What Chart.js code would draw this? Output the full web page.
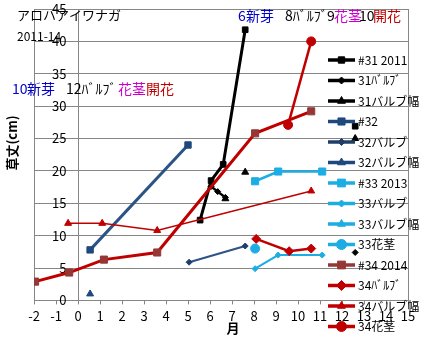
<!DOCTYPE html>
<html>
<head>
<meta charset="utf-8">
<script src="https://cdn.jsdelivr.net/npm/chart.js@4"></script>
<style>
  html, body { margin: 0; padding: 0; background: #fff; }
</style>
</head>
<body>
<canvas id="growthChart" width="425" height="342"></canvas>
<script>
// months (x) and heights in cm (y); null leaves a gap in the line
const m31 = [5.55, 6.05, 6.6, 7.6, 10, 12.6];
const h31 = [12.4, 18.5, 21.0, 41.8, null, 26.9];
const m31bulb = [6.05, 6.35, 6.7, 9, 12.6];
const h31bulb = [17.6, 16.8, 15.9, null, 7.4];
const m31width = [6.7, 7.2, 7.6, 9, 12.6];
const h31width = [15.7, null, 19.8, null, 25.0];

const m32 = [0.55, 5.0];
const h32 = [7.8, 24.0];
const m32bulb = [5.05, 7.6];
const h32bulb = [5.9, 8.4];
const m32width = [0.55];
const h32width = [1.0];

const m33 = [8.05, 9.1, 11.1];
const h33 = [18.4, 19.9, 19.9];
const m33bulb = [8.05, 9.1, 11.1];
const h33bulb = [4.9, 7.0, 7.0];
const m33width = [];
const h33width = [];
const m33stem = [8.05];
const h33stem = [8.0];

const m34 = [-1.95, -0.4, 1.18, 3.6, 8.05, 10.6];
const h34 = [2.9, 4.3, 6.3, 7.4, 25.8, 29.2];
const m34bulb = [8.1, 9.6, 10.6];
const h34bulb = [9.5, 7.6, 8.0];
const m34width = [-0.45, 1.1, 3.6, 10.6];
const h34width = [11.9, 11.9, 10.8, 16.9];
const m34stem = [9.55, 10.6];
const h34stem = [27.1, 40.0];

const JP = '"Noto Sans CJK JP", sans-serif';
const GRID = '#868686';

function pts(xs, ys) {
  return xs.map((x, i) => ({ x: x, y: ys[i] }));
}

function series(label, xs, ys, color, width, style, radius, markColor) {
  return {
    label: label,
    data: pts(xs, ys),
    showLine: true,
    borderColor: color,
    borderWidth: width,
    pointStyle: style,
    pointRadius: radius,
    pointBackgroundColor: markColor || color,
    pointBorderColor: markColor || color,
    pointBorderWidth: 1
  };
}

const datasets = [
  series('#31 2011', m31, h31, '#000000', 3, 'rect', 4),
  series('31ﾊﾞﾙﾌﾞ', m31bulb, h31bulb, '#000000', 2.5, 'rectRot', 3),
  series('31バルブ幅', m31width, h31width, '#000000', 2.5, 'triangle', 4),
  series('#32', m32, h32, '#2B5485', 3, 'rect', 4.5, '#1F497D'),
  series('32バルブ', m32bulb, h32bulb, '#2B5485', 2, 'rectRot', 3, '#1F3F6A'),
  series('32バルブ幅', m32width, h32width, '#2B5485', 2, 'triangle', 4, '#1F497D'),
  series('#33 2013', m33, h33, '#1CADE4', 2.5, 'rect', 5),
  series('33バルブ', m33bulb, h33bulb, '#1CADE4', 2, 'rectRot', 3),
  series('33バルブ幅', m33width, h33width, '#1CADE4', 2, 'triangle', 4),
  series('33花茎', m33stem, h33stem, '#1CADE4', 2.5, 'circle', 4.5),
  series('#34 2014', m34, h34, '#C00000', 3, 'rect', 5, '#953735'),
  series('34ﾊﾞﾙﾌﾞ', m34bulb, h34bulb, '#C00000', 2.5, 'rectRot', 4.5),
  series('34バルブ幅', m34width, h34width, '#C00000', 1.5, 'triangle', 4),
  series('34花茎', m34stem, h34stem, '#C00000', 2.5, 'circle', 4.5)
];
// later series are drawn on top
datasets.forEach((d, i) => { d.order = datasets.length - i; });

// coloured notes: [text, color, x]
const topNotes = [['6', '#0000CC', 238], ['新芽', '#0000CC', 246], ['8ﾊﾞﾙﾌﾞ', '#000000', 285],
  ['9', '#000000', 327], ['花茎', '#CC00CC', 334], ['10', '#000000', 359], ['開花', '#C00000', 373]];
const leftNotes = [['10', '#0000CC', 12], ['新芽', '#0000CC', 27], ['12ﾊﾞﾙﾌﾞ', '#000000', 66],
  ['花茎', '#CC00CC', 118], ['開花', '#C00000', 146]];

const notesAndLegend = {
  id: 'notesAndLegend',
  afterDraw(chart) {
    const ctx = chart.ctx;
    ctx.save();
    ctx.textBaseline = 'middle';
    ctx.textAlign = 'left';
    ctx.fillStyle = '#000';
    ctx.font = '13px ' + JP;
    ctx.fillText('アロハアイワナガ', 17, 15);
    ctx.font = '12px ' + JP;
    ctx.fillText('2011-14', 17, 36);

    ctx.font = '14px ' + JP;
    topNotes.forEach(n => { ctx.fillStyle = n[1]; ctx.fillText(n[0], n[2], 16); });
    leftNotes.forEach(n => { ctx.fillStyle = n[1]; ctx.fillText(n[0], n[2], 89); });

    // axis titles
    ctx.fillStyle = '#000';
    ctx.font = 'bold 13px ' + JP;
    ctx.textAlign = 'center';
    ctx.fillText('月', 233, 328);
    ctx.save();
    ctx.translate(12, 143);
    ctx.rotate(-Math.PI / 2);
    ctx.fillText('草丈(cm)', 0, 0);
    ctx.restore();

    // legend column over the right side of the plot
    ctx.font = '12px ' + JP;
    ctx.textAlign = 'left';
    chart.data.datasets.forEach((d, i) => {
      const y = 60 + i * 20.5;
      const c = d.pointBackgroundColor;
      ctx.strokeStyle = c;
      ctx.lineWidth = 3.5;
      ctx.beginPath();
      ctx.moveTo(328, y);
      ctx.lineTo(355, y);
      ctx.stroke();
      ctx.fillStyle = c;
      ctx.lineWidth = 1;
      Chart.helpers.drawPoint(ctx, { pointStyle: d.pointStyle, radius: d.pointRadius + 0.5, rotation: 0, borderWidth: 1 }, 341.5, y);
      ctx.fillStyle = '#000';
      ctx.fillText(d.label, 358, y);
    });
    ctx.restore();
  }
};

new Chart(document.getElementById('growthChart').getContext('2d'), {
  type: 'scatter',
  data: { datasets: datasets },
  options: {
    responsive: false,
    animation: false,
    layout: { padding: { left: 34, right: 17, top: 9, bottom: 14 } },
    plugins: {
      legend: { display: false },
      tooltip: { enabled: false }
    },
    scales: {
      x: {
        type: 'linear',
        min: -2,
        max: 15,
        ticks: { stepSize: 1, color: '#000', padding: 4, font: { size: 13, family: JP } },
        grid: {
          color: c => (c.tick && (c.tick.value === 0 || c.tick.value === 15)) ? GRID : 'rgba(0,0,0,0)',
          tickColor: GRID,
          tickLength: 4
        },
        border: { color: GRID }
      },
      y: {
        min: 0,
        max: 45,
        ticks: { stepSize: 5, color: '#000', mirror: true, crossAlign: 'far', padding: 18,
          font: { size: 13, family: JP } },
        grid: { color: GRID, drawTicks: false },
        border: { color: GRID },
        // mirrored labels sit inside the plot, so the axis takes no room
        afterFit(scale) {
          scale.width = 0;
          scale.paddingTop = 0;
          scale.paddingBottom = 0;
        }
      }
    }
  },
  plugins: [notesAndLegend]
});
</script>
</body>
</html>
